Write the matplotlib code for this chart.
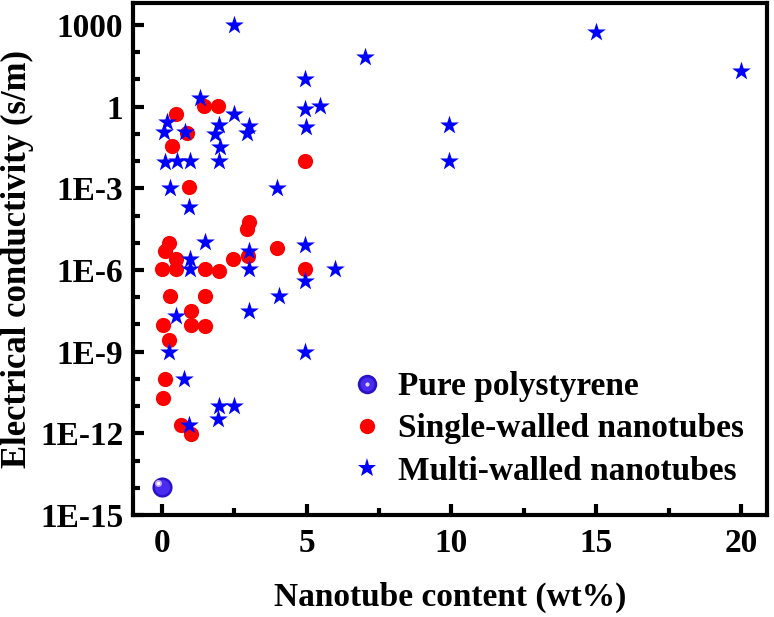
import matplotlib
matplotlib.use("Agg")
import matplotlib.pyplot as plt
from matplotlib.lines import Line2D
from matplotlib.legend_handler import HandlerTuple
from matplotlib.ticker import FixedLocator, NullFormatter

# ---------------- data ----------------
pure_x = [0.0]
pure_y = [1.1e-14]

swnt_x = [0.5, 1.45, 1.92, 0.85, 0.33, 0.93, 4.95, 3.0, 2.95, 0.23,
          0.12, 0.5, 0.0, 0.5, 1.48, 1.96, 2.45, 2.97, 3.99, 4.95,
          0.27, 1.5, 1.0, 0.04, 1.0, 1.5, 0.23, 0.1, 0.04, 0.67, 1.0]
swnt_y = [5.5e-1, 1.1, 1.1, 1.1e-1, 3.5e-2, 1.1e-3, 1.0e-2, 5.7e-5, 3.2e-5, 1.0e-5,
          5.2e-6, 2.6e-6, 1.1e-6, 1.1e-6, 1.1e-6, 9.5e-7, 2.6e-6, 3.2e-6, 6.3e-6, 1.05e-6,
          1.1e-7, 1.1e-7, 3.2e-8, 9.8e-9, 9.8e-9, 8.7e-9, 2.6e-9, 1.0e-10, 1.95e-11, 2.0e-12, 9.5e-13]

mwnt_x = [2.5, 1.3, 2.5, 0.18, 0.06, 0.81, 1.96, 1.84, 1.99, 1.96,
          2.99, 2.94, 0.09, 0.52, 0.96, 0.29, 0.93, 3.99, 1.47, 2.99,
          0.96, 0.98, 2.99, 4.03, 2.99, 0.5, 0.23, 0.75, 1.96, 2.48,
          1.92, 0.92, 7.0, 4.95, 4.95, 5.47, 4.98, 9.92, 9.92, 4.95,
          5.98, 4.95, 4.95, 15.0, 20.0]
mwnt_y = [1000, 2.1, 0.55, 0.28, 0.12, 0.12, 0.22, 0.10, 0.033, 0.0098,
          0.19, 0.11, 0.0093, 0.0098, 0.0098, 1.0e-3, 2.0e-4, 1.0e-3, 1.05e-5, 5.2e-6,
          2.6e-6, 1.1e-6, 1.1e-6, 1.1e-7, 3.2e-8, 2.1e-8, 1.0e-9, 1.0e-10, 1.05e-11, 1.05e-11,
          3.4e-12, 2.0e-12, 67, 10.7, 0.85, 1.07, 0.18, 0.22, 0.01, 8.5e-6,
          1.05e-6, 4.1e-7, 1.0e-9, 560, 21]

y_ticks = [1e-15, 1e-12, 1e-9, 1e-6, 1e-3, 1, 1000]
y_tick_labels = ["1E-15", "1E-12", "1E-9", "1E-6", "1E-3", "1", "1000"]
x_ticks = [0, 5, 10, 15, 20]
labels = ["Pure polystyrene", "Single-walled nanotubes", "Multi-walled nanotubes"]

# ---------------- style ----------------
plt.rcParams['font.family'] = ['Liberation Serif', 'DejaVu Serif']
plt.rcParams['font.weight'] = 'bold'
FS = 24
DPI = 100
W, H = 774, 617

fig = plt.figure(figsize=(W / DPI, H / DPI), dpi=DPI)
ax = fig.add_axes([133/W, 1 - 515/H, (767 - 133)/W, (515 - 3)/H])

ax.set_yscale('log')
ax.set_xlim(-1, 20.9)
ax.set_ylim(1e-15, 10**3.81)

# SWNT circles
ax.scatter(swnt_x, swnt_y, s=120, c='#ff0000', marker='o', linewidths=0, zorder=3)
# MWNT stars
ax.scatter(mwnt_x, mwnt_y, s=200, c='#0000ff', marker='*', linewidths=0, zorder=4)
# pure polystyrene sphere (layered to mimic shading)
ax.scatter(pure_x, pure_y, s=210, c='#2a12c8', marker='o', linewidths=0, zorder=5)
ax.scatter(pure_x, pure_y, s=120, c='#4a2cf0', marker='o', linewidths=0, zorder=6)
ax.scatter([pure_x[0] - 0.12], [pure_y[0] * 1.35], s=25, c='#c8a8ff', marker='o', linewidths=0, zorder=7)
ax.scatter([pure_x[0] - 0.12], [pure_y[0] * 1.35], s=6, c='white', marker='o', linewidths=0, zorder=8)

# ticks
ax.yaxis.set_major_locator(FixedLocator(y_ticks))
ax.set_yticklabels(y_tick_labels)
ax.yaxis.set_minor_locator(FixedLocator([10.0**k for k in range(-15, 4)]))
ax.yaxis.set_minor_formatter(NullFormatter())
ax.set_xticks(x_ticks)
ax.set_xticks([2.5, 7.5, 12.5, 17.5], minor=True)

ax.tick_params(axis='both', which='major', direction='in', length=8, width=3,
               labelsize=FS, top=False, right=False)
ax.tick_params(axis='both', which='minor', direction='in', length=5, width=3,
               top=False, right=False)
ax.tick_params(axis='x', which='major', pad=9.5)
ax.tick_params(axis='y', which='major', pad=7)
for lab in ax.get_xticklabels() + ax.get_yticklabels():
    lab.set_fontweight('bold')

for sp in ax.spines.values():
    sp.set_linewidth(3)

ax.set_xlabel("Nanotube content (wt%)", fontsize=FS, fontweight='bold', labelpad=16)
ax.set_ylabel("Electrical conductivity (s/m)", fontsize=25, fontweight='bold', labelpad=4)

# legend
h_pure = (Line2D([], [], ls='none', marker='o', markersize=14, markerfacecolor='#2a12c8', markeredgewidth=0),
          Line2D([], [], ls='none', marker='o', markersize=10, markerfacecolor='#4a2cf0', markeredgewidth=0),
          Line2D([], [], ls='none', marker='o', markersize=3, markerfacecolor='#e0d0ff', markeredgewidth=0))
h_sw = Line2D([], [], ls='none', marker='o', markersize=11, markerfacecolor='#ff0000', markeredgewidth=0)
h_mw = Line2D([], [], ls='none', marker='*', markersize=14, markerfacecolor='#0000ff', markeredgewidth=0)


def make_legend(bx, by, ls):
    return ax.legend([h_pure, h_sw, h_mw], labels,
                     handler_map={tuple: HandlerTuple(ndivide=1, pad=0)},
                     loc='lower left', bbox_to_anchor=(bx, by), frameon=False,
                     prop={'family': 'Liberation Serif', 'weight': 'bold', 'size': FS},
                     handlelength=1.2, handletextpad=0.33, labelspacing=ls,
                     borderpad=0.0, borderaxespad=0.0)


# target legend layout (pixels from top-left): text left edge, row centres
target_left = 398.0
target_rows = [387.0, 429.0, 471.0]
ax_w = 767 - 133
ax_h = 515 - 3
fs_px = FS * DPI / 72.0

bx, by, ls = 0.3375, 0.045, 0.1
for _ in range(3):
    leg = make_legend(bx, by, ls)
    fig.canvas.draw()
    r = fig.canvas.get_renderer()
    exts = [t.get_window_extent(r) for t in leg.get_texts()]
    centers = [H - (e.y0 + e.y1) / 2 for e in exts]
    spacing = (centers[-1] - centers[0]) / 2
    want = (target_rows[-1] - target_rows[0]) / 2
    ls += (want - spacing) / fs_px
    dx = target_left - exts[0].x0
    dy = centers[-1] - target_rows[-1]
    bx += dx / ax_w
    by += dy / ax_h
leg = make_legend(bx, by, ls)

fig.savefig("out.png", dpi=DPI)
